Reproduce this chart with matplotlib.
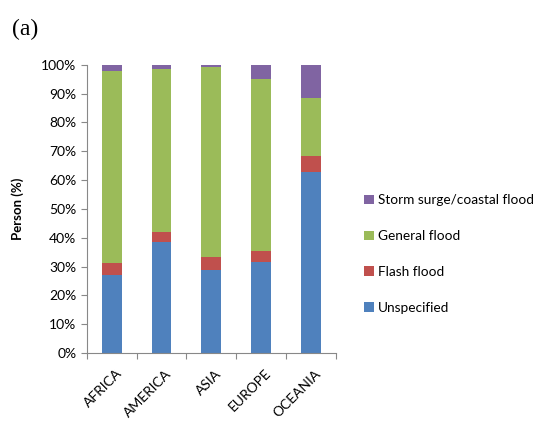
import numpy as np
import matplotlib.pyplot as plt
from matplotlib.ticker import FixedLocator

regions = ['AFRICA', 'AMERICA', 'ASIA', 'EUROPE', 'OCEANIA']
unspecified = [26.9, 38.6, 28.9, 31.5, 62.9]
flash = [4.3, 3.5, 4.5, 3.8, 5.5]
general = [66.5, 56.5, 65.9, 59.9, 20.1]
storm = [2.3, 1.4, 0.7, 4.8, 11.5]

series = [('Unspecified', unspecified, '#4F81BD'),
          ('Flash flood', flash, '#C0504D'),
          ('General flood', general, '#9BBB59'),
          ('Storm surge/coastal flood', storm, '#8064A2')]

plt.rcParams['font.family'] = ['Lato', 'DejaVu Sans']

fig = plt.figure(figsize=(5.46, 4.32), dpi=100)
ax = fig.add_axes([0.159, 0.183, 0.456, 0.667])

x = np.arange(len(regions))
bottom = np.zeros(len(regions))
handles = []
for name, vals, color in series:
    b = ax.bar(x, vals, width=0.4, bottom=bottom, color=color, label=name)
    handles.append(b)
    bottom += np.array(vals)

ax.set_xlim(-0.5, len(regions) - 0.5)
ax.set_ylim(0, 100)
ax.set_yticks(np.arange(0, 101, 10))
ax.set_yticklabels([f'{v}%' for v in range(0, 101, 10)], fontsize=10)
ax.xaxis.set_major_locator(FixedLocator(np.arange(-0.5, len(regions), 1)))
ax.set_xticklabels([])
for i, r in enumerate(regions):
    ax.text(i + 0.08, -5, r, rotation=45, ha='right', va='top', fontsize=10,
            transform=ax.transData, rotation_mode='anchor')

for s in ['top', 'right']:
    ax.spines[s].set_visible(False)
for s in ['left', 'bottom']:
    ax.spines[s].set_color('#888888')
ax.tick_params(axis='both', color='#888888', length=4)
ax.set_ylabel('Person (%)', fontsize=9.5, fontweight='bold', labelpad=12)

fig.text(0.022, 0.92, '(a)', fontsize=17, family='Liberation Serif')

fig.legend(handles[::-1], [s[0] for s in series][::-1], loc='center left',
           bbox_to_anchor=(0.645, 0.412), frameon=False, fontsize=9.8,
           handlelength=0.7, handleheight=0.7, handletextpad=0.3,
           labelspacing=1.75)

fig.savefig('out.png', dpi=100)
